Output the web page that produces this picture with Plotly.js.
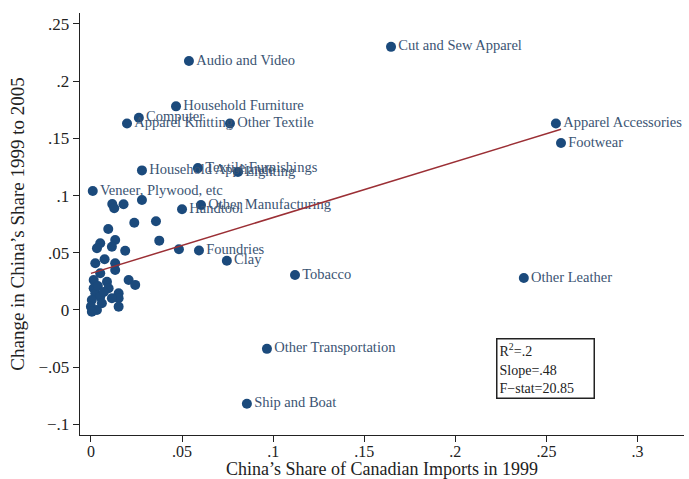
<!DOCTYPE html>
<html><head><meta charset="utf-8">
<script src="https://cdn.plot.ly/plotly-3.0.1.min.js"></script>
<style>html,body{margin:0;padding:0;background:#fff;}#chart{width:689px;height:479px;}</style>
</head><body><div id="chart"></div>
<script>
// Labeled industries
const labeledNames = ["Audio and Video","Cut and Sew Apparel","Household Furniture","Computer","Apparel Knitting","Other Textile","Apparel Accessories","Footwear","Household Appliance","Textile Furnishings","Lighting","Veneer, Plywood, etc","Handtool","Other Manufacturing","Foundries","Clay","Tobacco","Other Leather","Other Transportation","Ship and Boat"];
const labeledX = [0.0538,0.1647,0.0467,0.0263,0.0198,0.0763,0.2552,0.2580,0.0280,0.0587,0.0807,0.0010,0.0500,0.0604,0.0593,0.0746,0.1120,0.2376,0.0966,0.0856];
const labeledY = [0.2177,0.2300,0.1780,0.1680,0.1630,0.1630,0.1630,0.1460,0.1220,0.1240,0.1206,0.1040,0.0880,0.0918,0.0520,0.0430,0.0306,0.0280,-0.0340,-0.0820];
// Unlabeled industries
const otherX = [0.0117,0.0128,0.0179,0.0280,0.0238,0.0357,0.0095,0.0375,0.0483,0.0133,0.0051,0.0033,0.0115,0.0188,0.0075,0.0024,0.0133,0.0133,0.0051,0.0015,0.0088,0.0207,0.0243,0.0097,0.0015,0.0024,0.0152,0.0152,0.0115,0.0051,0.0005,0.0000,0.0033,0.0152,0.0060,0.0005,0.0038,0.0071];
const otherY = [0.0927,0.0889,0.0924,0.0962,0.0763,0.0775,0.0708,0.0606,0.0531,0.0612,0.0583,0.0539,0.0553,0.0518,0.0443,0.0408,0.0408,0.0350,0.0321,0.0262,0.0247,0.0262,0.0219,0.0190,0.0190,0.0146,0.0146,0.0102,0.0102,0.0116,0.0087,0.0029,0.0000,0.0029,0.0059,-0.0015,0.0210,0.0157];
// Fitted line
const fitIntercept = 0.032;
const fitSlope = 0.488;
const statsText = ["R<sup>2</sup>=.2","Slope=.48","F−stat=20.85"];
const xTickVals = [0,0.05,0.1,0.15,0.2,0.25,0.3];
const xTickText = ["0",".05",".1",".15",".2",".25",".3"];
const yTickVals = [-0.1,-0.05,0,0.05,0.1,0.15,0.2,0.25];
const yTickText = ["−.1","−.05","0",".05",".1",".15",".2",".25"];

const allX = labeledX.concat(otherX);
const xMin = Math.min(...allX), xMax = Math.max(...allX);
const markerColor = "#1b4a7c";
const serif = "Liberation Serif, Times New Roman, serif";

const traces = [
  {x: otherX, y: otherY, mode: "markers", type: "scatter",
   marker: {color: markerColor, size: 10}, hoverinfo: "skip"},
  {x: labeledX, y: labeledY, text: labeledNames, mode: "markers+text", type: "scatter",
   textposition: "middle right", textfont: {family: serif, size: 14.5, color: "#3b5473"},
   marker: {color: markerColor, size: 10}, cliponaxis: false},
  {x: [xMin, xMax], y: [fitIntercept + fitSlope*xMin, fitIntercept + fitSlope*xMax],
   mode: "lines", type: "scatter", line: {color: "#9b2f35", width: 1.5}}
];

const layout = {
  width: 689, height: 479,
  margin: {l: 80, r: 5, t: 13, b: 44},
  paper_bgcolor: "#fff", plot_bgcolor: "#fff",
  showlegend: false,
  font: {family: serif, color: "#222"},
  xaxis: {range: [-0.006, 0.3255], tickvals: xTickVals, ticktext: xTickText,
    showgrid: false, zeroline: false, showline: true, linecolor: "#222", linewidth: 1.3,
    ticks: "outside", ticklen: 6, tickcolor: "#222", tickfont: {family: serif, size: 16, color: "#222"},
    ticklabelstandoff: -5,
    title: {text: "China’s Share of Canadian Imports in 1999", font: {family: serif, size: 18, color: "#222"}, standoff: 8}},
  yaxis: {range: [-0.1093, 0.2596], tickvals: yTickVals, ticktext: yTickText,
    showgrid: false, zeroline: false, showline: true, linecolor: "#222", linewidth: 1.3,
    ticks: "outside", ticklen: 6, tickcolor: "#222", tickfont: {family: serif, size: 17, color: "#222"},
    title: {text: "Change in China’s Share 1999 to 2005", font: {family: serif, size: 19, color: "#222"}, standoff: 8}},
  annotations: [{
    x: 0.2223, y: -0.0245, xref: "x", yref: "y", xanchor: "left", yanchor: "top",
    text: statsText.join("<br>"), align: "left", showarrow: false,
    font: {family: serif, size: 14, color: "#222"},
    bordercolor: "#222", borderwidth: 1.5, borderpad: 2, bgcolor: "#fff", width: 92
  }]
};

Plotly.newPlot("chart", traces, layout, {displayModeBar: false, staticPlot: true});
</script></body></html>
